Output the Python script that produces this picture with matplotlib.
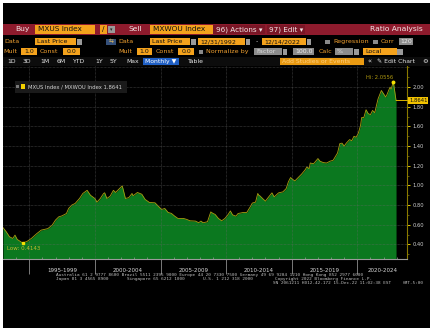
import matplotlib
matplotlib.use("Agg")
import matplotlib.pyplot as plt
import matplotlib.patches as mpatches
import matplotlib.dates as mdates
import matplotlib.transforms as mtransforms
import pandas as pd
import numpy as np

# ---------------- data ----------------
months = [
    "1992-12", "1993-03", "1993-06", "1993-09", "1993-11", "1994-01", "1994-06", "1994-10",
    "1995-02", "1995-07", "1995-11", "1996-05", "1996-09", "1996-12", "1997-03", "1997-06",
    "1997-10", "1997-12", "1998-03", "1998-06", "1998-10", "1999-01", "1999-05", "1999-08",
    "1999-12", "2000-02", "2000-05", "2000-08", "2000-09", "2000-11", "2001-02", "2001-05",
    "2001-07", "2001-09", "2002-01", "2002-02", "2002-04", "2002-07", "2002-10", "2002-11",
    "2003-03", "2003-07", "2003-10", "2004-02", "2004-07", "2004-10", "2005-01", "2005-04",
    "2005-07", "2005-10", "2006-01", "2006-04", "2006-09", "2006-12", "2007-03", "2007-08",
    "2007-11", "2008-01", "2008-03", "2008-07", "2008-10", "2008-12", "2009-02", "2009-05",
    "2009-08", "2009-11", "2010-02", "2010-04", "2010-06", "2010-09", "2010-11", "2011-04",
    "2011-07", "2011-10", "2011-12", "2012-03", "2012-05", "2012-06", "2012-07", "2012-10",
    "2012-12", "2013-03", "2013-06", "2013-08", "2013-12", "2014-04", "2014-07", "2014-09",
    "2014-11", "2015-01", "2015-03", "2015-06", "2015-09", "2015-12", "2016-02", "2016-04",
    "2016-05", "2016-08", "2016-10", "2016-12", "2017-02", "2017-05", "2017-08", "2017-11",
    "2018-02", "2018-06", "2018-08", "2018-10", "2018-12", "2019-02", "2019-05", "2019-07",
    "2019-09", "2019-11", "2020-01", "2020-03", "2020-04", "2020-06", "2020-08", "2020-10",
    "2020-12", "2021-02", "2021-04", "2021-06", "2021-07", "2021-10", "2021-12", "2022-02",
    "2022-03", "2022-06", "2022-07", "2022-09", "2022-12",
]
ratio = [
    0.570, 0.528, 0.477, 0.460, 0.494, 0.450, 0.4143, 0.430,
    0.460, 0.510, 0.545, 0.560, 0.596, 0.647, 0.680, 0.690,
    0.714, 0.765, 0.800, 0.816, 0.867, 0.918, 0.950, 0.900,
    0.867, 0.830, 0.867, 0.918, 0.925, 0.867, 0.890, 0.950,
    0.928, 0.950, 0.995, 0.958, 0.867, 0.875, 0.918, 0.895,
    0.928, 0.910, 0.857, 0.826, 0.823, 0.789, 0.755, 0.765,
    0.725, 0.715, 0.687, 0.664, 0.664, 0.654, 0.640, 0.637,
    0.620, 0.637, 0.620, 0.630, 0.730, 0.715, 0.705, 0.664,
    0.640, 0.664, 0.705, 0.740, 0.700, 0.687, 0.714, 0.725,
    0.725, 0.780, 0.820, 0.830, 0.918, 0.900, 0.893, 0.860,
    0.840, 0.883, 0.924, 0.883, 0.924, 0.934, 0.968, 1.036,
    1.080, 1.060, 1.046, 1.080, 1.114, 1.154, 1.188, 1.170,
    1.228, 1.220, 1.246, 1.273, 1.246, 1.232, 1.228, 1.246,
    1.256, 1.330, 1.425, 1.430, 1.400, 1.430, 1.466, 1.455,
    1.500, 1.490, 1.533, 1.610, 1.690, 1.690, 1.770, 1.730,
    1.720, 1.763, 1.740, 1.830, 1.880, 1.966, 1.933, 1.900,
    1.920, 2.000, 1.980, 2.0556, 1.8641,
]
period_labels = ["1995-1999", "2000-2004", "2005-2009", "2010-2014", "2015-2019", "2020-2024"]
period_starts = [1995, 2000, 2005, 2010, 2015, 2020]
y_ticks = [0.40, 0.60, 0.80, 1.00, 1.20, 1.40, 1.60, 1.80, 2.00]
legend_label = "MXUS Index / MXWOU Index 1.8641"

dates = [pd.Timestamp(m) + pd.offsets.MonthEnd(0) for m in months]
dates[-1] = pd.Timestamp("2022-12-14")
ratio = np.array(ratio)

# ---------------- figure ----------------
W, H = 435, 333
fig = plt.figure(figsize=(W / 100, H / 100), dpi=100)
fig.patch.set_facecolor("white")

def fx(x): return x / W
def fy(y): return 1 - y / H

def rect(x0, y0, x1, y1, color, z=0):
    fig.patches.append(mpatches.Rectangle((fx(x0), fy(y1)), (x1 - x0) / W, (y1 - y0) / H,
                                          transform=fig.transFigure, facecolor=color,
                                          edgecolor="none", linewidth=0, zorder=z))

def txt(x, y, s, size=4.6, color="white", ha="left", va="center", family="DejaVu Sans", **kw):
    fig.text(fx(x), fy(y), s, fontsize=size, color=color, ha=ha, va=va, family=family, **kw)

ORANGE = "#f4a21c"
ORANGE_T = "#f0a030"
GREY_BOX = "#8c8c8c"
RED = "#8e1b2d"
DARK = "#111111"

# black panel
rect(3, 3, 430, 328, "black", z=-2)
# red header
rect(3, 24, 430, 34.5, RED)
txt(15, 29.3, "Buy", size=5.4, color="#f2e6e6")
rect(35, 25, 95, 33.5, ORANGE)
txt(38, 29.3, "MXUS Index", size=5.3, color=DARK)
rect(100, 25, 107.5, 33.5, ORANGE)
txt(103.7, 29.3, "/", size=5.3, color=DARK, ha="center")
rect(108.5, 26.5, 115, 32.5, "#9a9a9a")
txt(111.7, 29.3, "▾", size=3.5, color="#222", ha="center")
txt(129, 29.3, "Sell", size=5.4, color="#f2e6e6")
rect(150, 25, 212.5, 33.5, ORANGE)
txt(153, 29.3, "MXWOU Index", size=5.3, color=DARK)
rect(213.5, 24.5, 265, 34, "#7a1626")
txt(216, 29.3, "96) Actions ▾", size=5.2, color="#f2e6e6")
rect(266.5, 24.5, 305, 34, "#7a1626")
txt(269, 29.3, "97) Edit ▾", size=5.2, color="#f2e6e6")
txt(423, 29.3, "Ratio Analysis", size=5.4, color="#f2e6e6", ha="right")

# row 2
r2 = 41.7
txt(4, r2, "Data", color=ORANGE_T)
rect(35, 38.3, 76, 45.2, ORANGE)
txt(37, r2, "Last Price", size=4.5, color=DARK)
rect(77, 38.8, 82, 44.7, "#9a9a9a")
rect(106, 39, 116, 44.5, "#35507a")
txt(111, r2, "⇆", size=4.2, color="#e8c060", ha="center")
txt(118, r2, "Data", color=ORANGE_T)
rect(150, 38.3, 190, 45.2, ORANGE)
txt(152, r2, "Last Price", size=4.5, color=DARK)
rect(191, 38.8, 196, 44.7, "#9a9a9a")
rect(198, 38.3, 245, 45.2, ORANGE)
txt(200, r2, "12/31/1992", size=4.5, color=DARK)
rect(246, 38.8, 250, 44.7, "#9a9a9a")
txt(256, r2, "-", color="#dddddd")
rect(262, 38.3, 306, 45.2, ORANGE)
txt(264, r2, "12/14/2022", size=4.5, color=DARK)
rect(307, 38.8, 311.5, 44.7, "#9a9a9a")
rect(325, 39.5, 330, 44, "#8a8a8a")
txt(333, r2, "Regression", color=ORANGE_T)
rect(373, 39.5, 378, 44, "#8a8a8a")
txt(381, r2, "Corr", color=ORANGE_T)
rect(399, 38.3, 413, 45.2, GREY_BOX)
txt(406, r2, "120", size=4.5, color="#eeeeee", ha="center")

# row 3
r3 = 51.7
txt(3.5, r3, "Mult", color=ORANGE_T)
rect(21, 48.3, 36.7, 55.2, ORANGE)
txt(29, r3, "1.0", size=4.5, color=DARK, ha="center")
txt(39.5, r3, "Const", color=ORANGE_T)
rect(63.3, 48.3, 80, 55.2, ORANGE)
txt(71.7, r3, "0.0", size=4.5, color=DARK, ha="center")
txt(118, r3, "Mult", color=ORANGE_T)
rect(136.7, 48.3, 151.7, 55.2, ORANGE)
txt(144.2, r3, "1.0", size=4.5, color=DARK, ha="center")
txt(156, r3, "Const", color=ORANGE_T)
rect(178.3, 48.3, 194.3, 55.2, ORANGE)
txt(186.3, r3, "0.0", size=4.5, color=DARK, ha="center")
rect(199, 49.5, 203.5, 54, "#8a8a8a")
txt(206.5, r3, "Normalize by", color=ORANGE_T)
rect(254.3, 48.3, 281.7, 55.2, GREY_BOX)
txt(256, r3, "Factor", size=4.5, color="#dddddd")
rect(282.7, 48.8, 287.3, 54.7, "#9a9a9a")
rect(292.7, 48.3, 314, 55.2, GREY_BOX)
txt(313, r3, "100.0", size=4.5, color="#eeeeee", ha="right")
txt(318.3, r3, "Calc", color=ORANGE_T)
rect(335, 48.3, 352.7, 55.2, GREY_BOX)
txt(337, r3, "%", size=4.5, color="#dddddd")
rect(354, 48.8, 359, 54.7, "#9a9a9a")
rect(363.3, 48.3, 396.7, 55.2, ORANGE)
txt(365, r3, "Local", size=4.5, color=DARK)
rect(397.5, 48.8, 402.7, 54.7, "#9a9a9a")

# row 4
r4 = 61.3
rect(3, 57, 430, 65.5, "#0c0c0c")
for lab, x in [("1D", 7), ("3D", 23), ("1M", 40), ("6M", 57), ("YTD", 73), ("1Y", 95),
               ("5Y", 110), ("Max", 126)]:
    txt(x, r4, lab, size=4.4, color="#e6e6e6")
rect(142.7, 57.5, 179.3, 65, "#1f5fc4")
txt(145, r4, "Monthly ▼", size=4.4, color="white")
txt(188, r4, "Table", size=4.4, color="#e6e6e6")
rect(280, 57.5, 364, 65, "#e99a12")
txt(282, r4, "Add Studies or Events", size=4.4, color="#ffcf80")
txt(368, r4, "«", size=4.8, color="#e6e6e6")
txt(377, r4, "✎ Edit Chart", size=4.4, color="#e6e6e6")
txt(425, r4, "⚙", size=4.6, color="#e6e6e6", ha="center")

# ---------------- main axes ----------------
x0, x1, y0, y1 = 3, 407, 66, 258.7
ax = fig.add_axes([fx(x0), fy(y1), (x1 - x0) / W, (y1 - y0) / H])
ax.set_zorder(2)
ax.set_facecolor("black")
xmin, xmax = pd.Timestamp("1992-12-31"), pd.Timestamp("2023-10-15")
ymin, ymax = 0.254, 2.215
ax.set_xlim(xmin, xmax)
ax.set_ylim(ymin, ymax)

ax.fill_between(dates, ratio, ymin, color="#0b781f", linewidth=0, zorder=1)
ax.plot(dates, ratio, color="#a8a010", lw=0.6, zorder=2)

# grid
for yv in y_ticks + [2.20]:
    ax.axhline(yv, color="#6a6a6a", lw=0.45, ls=(0, (1, 1.2)), zorder=3, alpha=0.8)
for ys in period_starts:
    ax.axvline(pd.Timestamp(f"{ys}-01-01"), color="#6a6a6a", lw=0.45, ls=(0, (1, 1.2)),
               zorder=3, alpha=0.8)

# spines
for s in ["left", "top"]:
    ax.spines[s].set_visible(False)
ax.spines["bottom"].set_color("#9a9a9a")
ax.spines["bottom"].set_linewidth(0.8)
ax.spines["right"].set_color("#8a7a00")
ax.spines["right"].set_linewidth(0.8)

ax.yaxis.tick_right()
ax.set_yticks(y_ticks)
ax.set_yticklabels([f"{v:.2f}" for v in y_ticks])
ax.tick_params(axis="y", colors="#e0c400", labelcolor="#d0d0d0", labelsize=3.7,
               length=2.5, width=0.7, pad=1.2, direction="out")
ax.yaxis.set_minor_locator(matplotlib.ticker.MultipleLocator(0.1))
ax.tick_params(axis="y", which="minor", colors="#8a7a00", length=1.3, width=0.5)

ax.set_xticks([pd.Timestamp(f"{y}-01-01") for y in period_starts])
ax.set_xticklabels([])
ax.tick_params(axis="x", which="major", colors="#7a7a7a", length=10.5, width=0.7,
               direction="out")
ax.set_xticks([pd.Timestamp(f"{y}-01-01") for y in range(1994, 2024)], minor=True)
ax.tick_params(axis="x", which="minor", colors="#9a9a9a", length=1.5, width=0.5,
               direction="in")

# period labels centred within the visible part of each period
trans = mtransforms.blended_transform_factory(ax.transData, fig.transFigure)
for lab, ys in zip(period_labels, period_starts):
    a = mdates.date2num(pd.Timestamp(f"{ys}-01-01"))
    b = min(mdates.date2num(pd.Timestamp(f"{ys + 5}-01-01")), mdates.date2num(xmax))
    ax.text((a + b) / 2, fy(270.7), lab, transform=trans, fontsize=4.0, color="#d8d8d8",
            ha="center", va="center", clip_on=False)

# last value line + label
last_d, last_v = dates[-1], ratio[-1]
ax.plot([last_d, xmax], [last_v, last_v], color="#d8b400", lw=0.7, clip_on=False, zorder=4)
ax.text(1.005, last_v, f"{last_v:.4f}", transform=ax.get_yaxis_transform(), fontsize=3.8,
        color="#111111", ha="left", va="center", clip_on=False, zorder=6,
        bbox=dict(boxstyle="square,pad=0.15", fc="#f2c200", ec="none"))

# hi / low markers
ih, il = int(np.argmax(ratio)), int(np.argmin(ratio))
ax.plot([dates[ih]], [ratio[ih]], "o", ms=1.8, color="#f5e000", zorder=5)
ax.plot([dates[il]], [ratio[il]], "s", ms=1.6, color="#f5e000", zorder=5)
ax.annotate(f"Hi: {ratio[ih]:.4f}", (dates[ih], ratio[ih]), xytext=(0, 2),
            textcoords="offset pixels", ha="right", va="bottom", fontsize=3.8,
            color="#b09a10", zorder=6)
ax.annotate(f"Low: {ratio[il]:.4f}", (dates[il], ratio[il]), xytext=(-16, -5.5),
            textcoords="offset pixels", ha="left", va="center", fontsize=4.0,
            color="#c2b830", zorder=6)

# legend
rect(15, 80.5, 127, 93, "#1a1a1a", z=5)
rect(16, 85, 19.5, 88.5, "#7a7a7a", z=6)
rect(21.5, 84.3, 25.5, 88.8, "#f2d000", z=6)
txt(28, 86.8, legend_label, size=3.75, color="#d4d4d4", zorder=7)

# footer
mono = "DejaVu Sans Mono"
fc = "#bdbdbd"
txt(56, 275.4, "Australia 61 2 9777 8600 Brazil 5511 2395 9000 Europe 44 20 7330 7500 "
    "Germany 49 69 9204 1210 Hong Kong 852 2977 6000", size=3.15, color=fc, family=mono)
txt(56, 279.2, "Japan 81 3 4565 8900", size=3.15, color=fc, family=mono)
txt(127, 279.2, "Singapore 65 6212 1000", size=3.15, color=fc, family=mono)
txt(203, 279.2, "U.S. 1 212 318 2000", size=3.15, color=fc, family=mono)
txt(275, 279.2, "Copyright 2022 Bloomberg Finance L.P.", size=3.15, color=fc, family=mono)
txt(273, 283.3, "SN 2061211 H012-42-172 15-Dec-22 11:02:38 EST", size=3.15, color=fc,
    family=mono)
txt(403, 283.3, "GMT-5:00", size=3.15, color=fc, family=mono)

fig.savefig("out.png", dpi=100, facecolor=fig.get_facecolor())
